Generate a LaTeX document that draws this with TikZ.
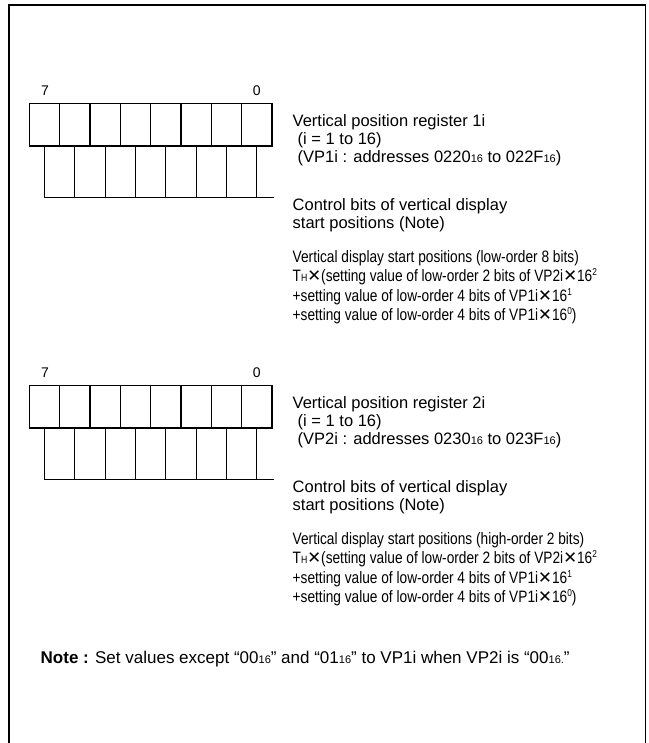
\documentclass[tikz,border=0pt]{standalone}
\usepackage{fontspec}
\setmainfont{Liberation Sans}
\newfontfamily\narrowfont{Liberation Sans}[FakeStretch=0.83]
\newfontfamily\xfont{DejaVu Sans}
\newcommand{\hexs}[1]{{\fontsize{11}{11}\selectfont #1}}
\newcommand{\thsym}{T{\fontsize{10.5}{10}\selectfont H}}
\newcommand{\mulx}{{\xfont\bfseries ✕}}
\newcommand{\pw}[1]{\raisebox{6pt}{\fontsize{10}{10}\selectfont #1}}
\begin{document}
\begin{tikzpicture}[x=1pt, y=-1pt,
    bitcell/.style={draw, line width=1.3pt, minimum width=30.34pt, minimum height=42.7pt, inner sep=0pt, outer sep=0pt},
    bitline/.style={line width=0.8pt},
    bitno/.style={inner sep=0pt, font=\fontsize{14}{14}\selectfont},
    txt/.style={inner sep=0pt, anchor=north west, align=left, font=\fontsize{16.5}{18}\selectfont},
    formula/.style={inner sep=0pt, anchor=north west, align=left, font=\narrowfont\fontsize{16.5}{19.5}\selectfont}]
    \useasboundingbox (0,0) rectangle (648,743);
    \draw[line width=1.8pt] (9,743) -- (9,5) -- (645.5,5) -- (645.5,743);
    \foreach \rn/\dy/\adr/\ord in {1/0/022/low-order 8 bits, 2/282/023/high-order 2 bits}{
        \foreach \i in {0,...,7}
            \node[bitcell] (c\rn\i) at ({29.3+30.34*(\i+0.5)}, {124.65+\dy}) {};
        \coordinate (bus\rn) at (274, {197.7+\dy});
        \foreach \i in {0,...,7}
            \draw[bitline] (c\rn\i.south) -- (c\rn\i.south |- bus\rn);
        \draw[bitline] (c\rn0.south |- bus\rn) -- (bus\rn);
        \node[bitno] (msb\rn) at (45, {90.7+\dy}) {7};
        \node[bitno] (lsb\rn) at (256.7, {90.7+\dy}) {0};
        \node[txt] (reg\rn) at (292.5, {114+\dy}) {Vertical position register \rn i\\
            \hspace*{5pt}(i = 1 to 16)\\
            \hspace*{5pt}(VP\rn i : addresses \adr0\hexs{16} to \adr F\hexs{16})};
        \node[txt] (ctl\rn) at (292.5, {198.6+\dy}) {Control bits of vertical display\\start positions (Note)};
        \node[formula] (val\rn) at (292.5, {250+\dy}) {Vertical display start positions (\ord)\\
            \thsym\mulx(setting value of low-order 2 bits of VP2i\mulx16\pw{2}\\
            +setting value of low-order 4 bits of VP1i\mulx16\pw{1}\\
            +setting value of low-order 4 bits of VP1i\mulx16\pw{0})};
    }
    \node[txt, anchor=base west, font=\fontsize{17}{18}\selectfont] (note) at (40.5, 663) {\textbf{Note :} Set values except “00\hexs{16}” and “01\hexs{16}” to VP1i when VP2i is “00\hexs{16.}”};
\end{tikzpicture}
\end{document}
